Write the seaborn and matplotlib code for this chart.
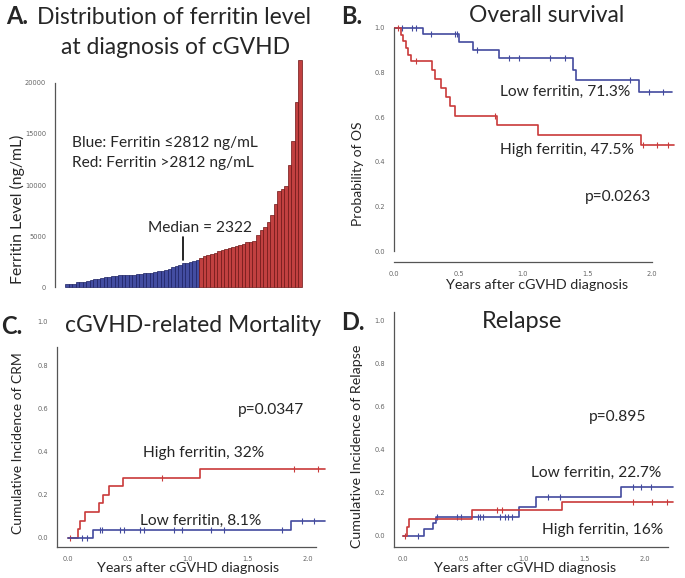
import numpy as np
import pandas as pd
import matplotlib
matplotlib.use("Agg")
import matplotlib.pyplot as plt
import seaborn as sns

# ---------------- data ----------------
ferritin_low = [250, 260, 280, 480, 500, 520, 560, 700, 740, 760, 900, 950, 1000, 1100,
                1120, 1150, 1170, 1180, 1200, 1210, 1230, 1280, 1330, 1380, 1420, 1480,
                1520, 1560, 1620, 1800, 1950, 2100, 2200, 2322, 2400, 2450, 2550, 2620]
ferritin_high = [2850, 3000, 3100, 3250, 3350, 3500, 3600, 3700, 3850, 3950, 4050, 4100,
                 4250, 4400, 4450, 4500, 5100, 5600, 5850, 6400, 7100, 8100, 9400, 9600,
                 9950, 12000, 14300, 18100, 22300]
ferritin_ticks = [0, 5000, 10000, 15000, 20000]

# Overall survival
os_low_t = [0.22, 0.50, 0.61, 0.81, 1.385, 1.41, 1.90]
os_low_s = [0.972, 0.937, 0.90, 0.864, 0.813, 0.767, 0.713]
os_low_end = 2.16
os_low_cens = [0.06, 0.135, 0.17, 0.285, 0.47, 0.49, 0.645, 0.89, 0.97, 1.21, 1.33, 1.83, 1.98, 2.09]
os_high_t = [0.05, 0.07, 0.09, 0.11, 0.13, 0.29, 0.32, 0.36, 0.40, 0.43, 0.47, 0.80, 1.12, 1.92]
os_high_s = [0.97, 0.94, 0.91, 0.88, 0.85, 0.81, 0.77, 0.73, 0.69, 0.65, 0.607, 0.563, 0.522, 0.475]
os_high_end = 2.17
os_high_cens = [0.03, 0.17, 0.78, 1.93, 2.04, 2.13]

# cGVHD-related mortality
crm_high_t = [0.08, 0.10, 0.14, 0.26, 0.29, 0.34, 0.46, 1.10]
crm_high_s = [0.04, 0.08, 0.12, 0.16, 0.20, 0.24, 0.28, 0.32]
crm_high_end = 2.14
crm_high_cens = [0.02, 0.78, 1.88, 2.08]
crm_low_t = [0.21, 1.86]
crm_low_s = [0.035, 0.081]
crm_low_end = 2.14
crm_low_cens = [0.12, 0.16, 0.27, 0.28, 0.43, 0.47, 0.60, 0.63, 0.88, 0.95, 1.19, 1.30, 1.78, 1.95, 2.05]

# Relapse
rel_low_t = [0.17, 0.25, 0.27, 0.96, 1.10, 1.80]
rel_low_s = [0.031, 0.062, 0.09, 0.135, 0.18, 0.227]
rel_low_end = 2.23
rel_low_cens = [0.12, 0.28, 0.45, 0.48, 0.62, 0.64, 0.66, 0.80, 0.84, 0.87, 0.90, 1.20, 1.30, 1.90, 1.97, 2.05]
rel_high_t = [0.03, 0.05, 0.57, 1.31]
rel_high_s = [0.04, 0.08, 0.12, 0.16]
rel_high_end = 2.23
rel_high_cens = [0.02, 0.78, 0.82, 1.90, 2.06, 2.18]

prob_ticks = [0.0, 0.2, 0.4, 0.6, 0.8, 1.0]
year_ticks = [0.0, 0.5, 1.0, 1.5, 2.0]

# ---------------- style ----------------
sns.set_style("white")
plt.rcParams['font.family'] = ['Lato', 'DejaVu Sans']
BLUE = "#434a9e"
RED = "#c93a3a"
BAR_BLUE = "#3441b0"
BAR_RED = "#d62a2a"
SPINE = "#555555"
TICKC = "#666666"
ANN = 11.2

W, H = 685, 578
fig = plt.figure(figsize=(W / 100, H / 100), dpi=100)
fig.patch.set_facecolor("white")


def box(l, t, r, b):
    return fig.add_axes([l / W, 1 - b / H, (r - l) / W, (b - t) / H])


def ftext(x, y, s, **kw):
    kw.setdefault("va", "center")
    fig.text(x / W, 1 - y / H, s, **kw)


def style_axes(ax):
    for side in ["top", "right"]:
        ax.spines[side].set_visible(False)
    for side in ["left", "bottom"]:
        ax.spines[side].set_color(SPINE)
        ax.spines[side].set_linewidth(0.9)
    ax.tick_params(direction="out", length=3.5, width=0.8, color=SPINE,
                   labelsize=4.8, labelcolor=TICKC, pad=3)
    for lab in ax.get_xticklabels() + ax.get_yticklabels():
        lab.set_family("DejaVu Sans")
    ax.set_xlabel("")
    ax.set_ylabel("")


def km(ax, times, vals, start, end, censor, color):
    x = [0.0] + list(times) + [end]
    y = [start] + list(vals) + [vals[-1]]
    df = pd.DataFrame({"t": x, "s": y})
    sns.lineplot(data=df, x="t", y="s", drawstyle="steps-post", color=color,
                 linewidth=1.2, estimator=None, sort=False, ax=ax)
    tarr = np.array(x)
    idx = np.searchsorted(tarr, np.array(censor), side="right") - 1
    cy = np.array(y)[idx]
    sns.scatterplot(x=censor, y=cy, marker="|", s=14, color=color,
                    edgecolor=color, linewidth=0.8, ax=ax, legend=False)


# ---------------- Panel A ----------------
axA = box(55, 55, 305, 290)
vals = ferritin_low + ferritin_high
groups = ["low"] * len(ferritin_low) + ["high"] * len(ferritin_high)
dfA = pd.DataFrame({"idx": np.arange(len(vals)), "value": vals, "group": groups})
sns.barplot(data=dfA, x="idx", y="value", hue="group",
            palette={"low": BAR_BLUE, "high": BAR_RED}, dodge=False, width=1.0,
            linewidth=0.5, legend=False, ax=axA)
for p in axA.patches:
    fc = p.get_facecolor()
    if fc[0] > fc[2]:
        p.set_edgecolor("#6e1515")
    else:
        p.set_edgecolor("#1c2163")
n = len(vals)
px_per = 237 / n
axA.set_xlim(-0.5 - 10 / px_per, n - 0.5 + 3 / px_per)
axA.set_ylim(-294, 22745)
axA.set_xticks([])
axA.set_yticks(ferritin_ticks)
axA.set_yticklabels([str(v) for v in ferritin_ticks])
style_axes(axA)
axA.spines["bottom"].set_visible(False)
axA.spines["left"].set_bounds(ferritin_ticks[0], ferritin_ticks[-1])
med = float(np.median(vals))
med_idx = int(np.argmin(np.abs(np.array(vals) - med)))
axA.plot([med_idx, med_idx], [med + 330, med + 2600], color="black", lw=1.2)

ftext(6, 17, "A.", fontsize=17, fontweight="bold", ha="left")
ftext(37, 17, "Distribution of ferritin level", fontsize=16.5, ha="left")
ftext(176, 48, "at diagnosis of cGVHD", fontsize=16.5, ha="center")
ftext(17, 209, "Ferritin Level (ng/mL)", fontsize=11.3, rotation=90, ha="center")
ftext(72, 143, "Blue: Ferritin \u22642812 ng/mL", fontsize=ANN, ha="left",
      family=["Lato", "DejaVu Sans"])
ftext(72, 163, "Red: Ferritin >2812 ng/mL", fontsize=ANN, ha="left")
ftext(148, 228, f"Median = {med:.0f}", fontsize=ANN, ha="left")

# ---------------- Panel B ----------------
axB = box(394.3, 15, 675, 262)
km(axB, os_low_t, os_low_s, 1.0, os_low_end, os_low_cens, BLUE)
km(axB, os_high_t, os_high_s, 1.0, os_high_end, os_high_cens, RED)
axB.set_xlim(0, (675 - 394.3) / 128.7)
axB.set_ylim((251 - 262) / 223, (251 - 15) / 223)
axB.set_xticks(year_ticks)
axB.set_xticklabels([f"{v:.1f}" for v in year_ticks])
axB.set_yticks(prob_ticks)
axB.set_yticklabels([f"{v:.1f}" for v in prob_ticks])
style_axes(axB)
axB.spines["left"].set_bounds(0, 1)
axB.spines["bottom"].set_bounds(0, 2)

ftext(341, 16, "B.", fontsize=17, fontweight="bold", ha="left")
ftext(547, 16, "Overall survival", fontsize=16.5, ha="center")
ftext(358, 174, "Probability of OS", fontsize=10, rotation=90, ha="center")
ftext(537, 285, "Years after cGVHD diagnosis", fontsize=10.3, ha="center")
ftext(500, 92, "Low ferritin, 71.3%", fontsize=ANN, ha="left")
ftext(500, 150, "High ferritin, 47.5%", fontsize=ANN, ha="left")
ftext(585, 197, "p=0.0263", fontsize=ANN, ha="left")

# ---------------- Panel C ----------------
axC = box(57, 305, 332, 547)
km(axC, crm_high_t, crm_high_s, 0.0, crm_high_end, crm_high_cens, RED)
km(axC, crm_low_t, crm_low_s, 0.0, crm_low_end, crm_low_cens, BLUE)
xl0 = -11 / 120
axC.set_xlim(xl0, (332 - 68) / 120)
yl0 = -(547 - 538) / 216
axC.set_ylim(yl0, (538 - 305) / 216)
axC.set_xticks(year_ticks)
axC.set_xticklabels([f"{v:.1f}" for v in year_ticks])
axC.set_yticks(prob_ticks)
axC.set_yticklabels([f"{v:.1f}" for v in prob_ticks])
style_axes(axC)
axC.spines["left"].set_bounds(yl0, 0.885)
axC.spines["bottom"].set_bounds(xl0, 2.07)
axC.yaxis.get_major_ticks()[-1].tick1line.set_visible(False)

ftext(1, 326, "C.", fontsize=17, fontweight="bold", ha="left")
ftext(65, 326, "cGVHD-related Mortality", fontsize=16.5, ha="left")
ftext(18, 443, "Cumulative Incidence of CRM", fontsize=10, rotation=90, ha="center")
ftext(188, 568, "Years after cGVHD diagnosis", fontsize=10.3, ha="center")
ftext(238, 410, "p=0.0347", fontsize=ANN, ha="left")
ftext(143, 453, "High ferritin, 32%", fontsize=ANN, ha="left")
ftext(140, 521, "Low ferritin, 8.1%", fontsize=ANN, ha="left")

# ---------------- Panel D ----------------
axD = box(394, 312, 680, 547)
km(axD, rel_low_t, rel_low_s, 0.0, rel_low_end, rel_low_cens, BLUE)
km(axD, rel_high_t, rel_high_s, 0.0, rel_high_end, rel_high_cens, RED)
dx0 = -9 / 121
axD.set_xlim(dx0, (680 - 403) / 121)
axD.set_ylim(-11 / 215, 224 / 215)
axD.set_xticks(year_ticks)
axD.set_xticklabels([f"{v:.1f}" for v in year_ticks])
axD.set_yticks(prob_ticks)
axD.set_yticklabels([f"{v:.1f}" for v in prob_ticks])
style_axes(axD)
axD.spines["bottom"].set_bounds(dx0, 2.19)

ftext(341, 322, "D.", fontsize=17, fontweight="bold", ha="left")
ftext(522, 322, "Relapse", fontsize=17, ha="center")
ftext(357, 446, "Cumulative Incidence of Relapse", fontsize=10.3, rotation=90, ha="center")
ftext(525, 568, "Years after cGVHD diagnosis", fontsize=10.3, ha="center")
ftext(589, 417, "p=0.895", fontsize=ANN, ha="left")
ftext(531, 473, "Low ferritin, 22.7%", fontsize=ANN, ha="left")
ftext(542, 530, "High ferritin, 16%", fontsize=ANN, ha="left")

fig.savefig("out.png", dpi=100, facecolor="white")
